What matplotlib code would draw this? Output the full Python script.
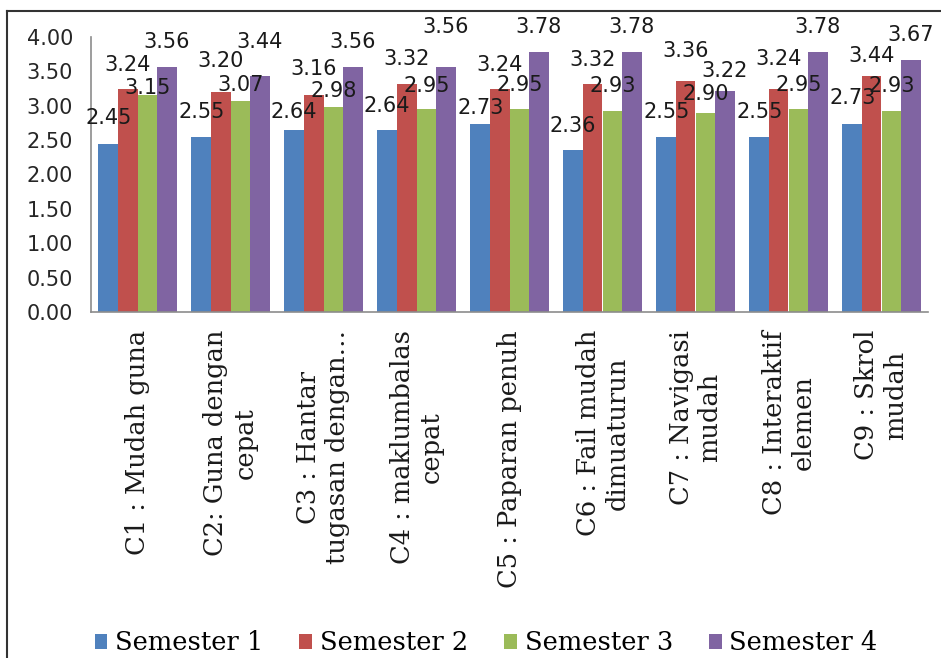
import matplotlib
matplotlib.use("Agg")
import matplotlib.pyplot as plt
from matplotlib.lines import Line2D
import numpy as np

categories = [
    "C1 : Mudah guna",
    "C2: Guna dengan\ncepat",
    "C3 : Hantar\ntugasan dengan…",
    "C4 : maklumbalas\ncepat",
    "C5 : Paparan penuh",
    "C6 : Fail mudah\ndimuaturun",
    "C7 : Navigasi\nmudah",
    "C8 : Interaktif\nelemen",
    "C9 : Skrol\nmudah",
]
semester1 = [2.45, 2.55, 2.64, 2.64, 2.73, 2.36, 2.55, 2.55, 2.73]
semester2 = [3.24, 3.20, 3.16, 3.32, 3.24, 3.32, 3.36, 3.24, 3.44]
semester3 = [3.15, 3.07, 2.98, 2.95, 2.95, 2.93, 2.90, 2.95, 2.93]
semester4 = [3.56, 3.44, 3.56, 3.56, 3.78, 3.78, 3.22, 3.78, 3.67]
series_names = ["Semester 1", "Semester 2", "Semester 3", "Semester 4"]
colors = ["#4F81BD", "#C0504D", "#9BBB59", "#8064A2"]

# pixel gap between each bar top and its value label, so the labels don't pile up
label_lift = [
    [26, 25, 18, 24, 16, 24, 25, 25, 26],
    [24, 31, 26, 25, 24, 24, 30, 30, 19],
    [7, 16, 16, 23, 24, 25, 19, 24, 25],
    [25, 34, 25, 40, 25, 25, 20, 25, 25],
]

W, H = 941, 658
fig = plt.figure(figsize=(W / 100, H / 100), dpi=100)
ax = fig.add_axes([91 / W, 1 - 312 / H, (928 - 91) / W, (312 - 37) / H])

x = np.arange(len(categories))
bw = 0.21
for i, vals in enumerate([semester1, semester2, semester3, semester4]):
    pos = x + (i - 1.5) * bw
    ax.bar(pos, vals, width=bw, color=colors[i], label=series_names[i], zorder=2)
    for j, (px, v) in enumerate(zip(pos, vals)):
        ax.annotate(f"{v:.2f}", (px, v), xytext=(0, label_lift[i][j]),
                    textcoords="offset pixels", ha="center", va="center",
                    fontsize=15, color="#1a1a1a", family="DejaVu Sans",
                    zorder=5, annotation_clip=False)

ax.set_xlim(-0.5, len(categories) - 0.5)
ax.set_ylim(0, 4)
ax.set_yticks(np.arange(0, 4.01, 0.5))
ax.set_yticklabels([f"{t:.2f}" for t in np.arange(0, 4.01, 0.5)])
ax.tick_params(axis="y", length=0, pad=13, labelsize=15, labelcolor="#262626")
ax.set_xticks(x)
ax.set_xticklabels(categories, rotation=90, family="DejaVu Serif", fontsize=18.5,
                   va="top", ha="center", multialignment="center", color="#1a1a1a")
ax.tick_params(axis="x", length=0, pad=13)
for s in ["top", "right"]:
    ax.spines[s].set_visible(False)
for s in ["left", "bottom"]:
    ax.spines[s].set_color("#8c8c8c")
    ax.spines[s].set_linewidth(1.2)

fig.legend(loc="center", bbox_to_anchor=(486 / W, 1 - 643 / H), ncol=4,
           frameon=False, prop={"family": "DejaVu Serif", "size": 18.5},
           handlelength=0.5, handleheight=0.5, handletextpad=0.3,
           columnspacing=1.4, borderaxespad=0, borderpad=0)

# outer frame: left and top edges only
fig.add_artist(Line2D([7 / W, 7 / W], [0, 1 - 11 / H], transform=fig.transFigure,
                      color="#333333", lw=1.5))
fig.add_artist(Line2D([7 / W, 1], [1 - 11 / H, 1 - 11 / H], transform=fig.transFigure,
                      color="#333333", lw=1.5))

fig.savefig("out.png", dpi=100)
